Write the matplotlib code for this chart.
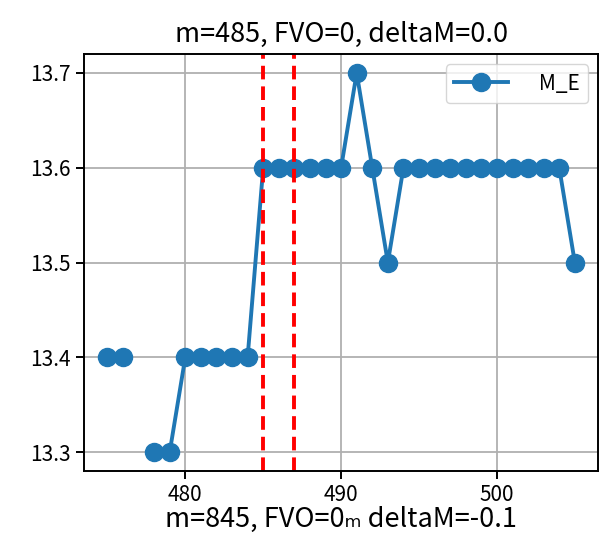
import numpy as np
import matplotlib
matplotlib.use('Agg')
import matplotlib.pyplot as plt

plt.rcParams['font.family'] = ['Noto Sans CJK SC', 'DejaVu Sans']
plt.rcParams['axes.unicode_minus'] = False

# 数据
m_values = [475, 476, 477, 478, 479, 480, 481, 482, 483, 484, 485, 486, 487, 488, 489, 490,
            491, 492, 493, 494, 495, 496, 497, 498, 499, 500, 501, 502, 503, 504, 505]
m_e = [13.4, 13.4, np.nan, 13.3, 13.3, 13.4, 13.4, 13.4, 13.4, 13.4, 13.6, 13.6, 13.6, 13.6, 13.6, 13.6,
       13.7, 13.6, 13.5, 13.6, 13.6, 13.6, 13.6, 13.6, 13.6, 13.6, 13.6, 13.6, 13.6, 13.6, 13.5]
vlines = [485, 487]

fig = plt.figure(figsize=(6, 5.51), dpi=100)
ax = fig.add_axes([0.14, 0.145, 0.857, 0.757])

ax.plot(m_values, m_e, 'o-', color='#1f77b4', linewidth=2.8, markersize=13, label='   M_E')
for v in vlines:
    ax.axvline(v, color='red', linestyle='--', linewidth=2.8, dashes=(3.5, 1.8))

ax.grid(True, color='#b0b0b0', linewidth=1.3)
ax.set_xticks([480, 490, 500])
ax.set_yticks([13.3, 13.4, 13.5, 13.6, 13.7])
ax.tick_params(labelsize=15, width=1.4, length=6)
for s in ax.spines.values():
    s.set_linewidth(1.4)

ax.set_title('m=485, FVO=0, deltaM=0.0', fontsize=19.5, pad=9)
ax.set_xlabel('m=845, FVO=0ₘ deltaM=-0.1', fontsize=19.5, labelpad=0)
ax.legend(loc='upper right', fontsize=15, handlelength=2.6)

fig.savefig('out.png', dpi=100)
